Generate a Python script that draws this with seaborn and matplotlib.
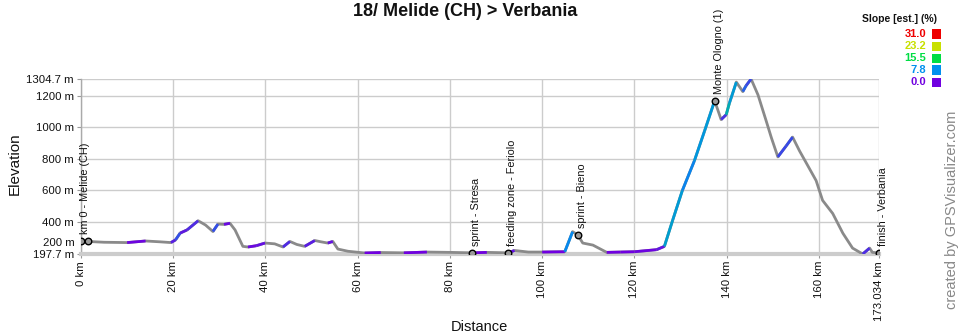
import numpy as np
import pandas as pd
import matplotlib
matplotlib.use("Agg")
import matplotlib.pyplot as plt
import matplotlib.transforms as mtransforms
from matplotlib.colors import LinearSegmentedColormap
from matplotlib.patches import Rectangle
import seaborn as sns

# ---- data ----
dist_km = [0, 1.5, 5, 10, 14, 17, 19.5, 20.5, 21.5, 23, 25.4, 27, 28.6, 29.7, 31, 32.3, 33.4,
           35.1, 36.2, 38, 39.9, 42, 43.8, 45.3, 46.8, 48.5, 50.7, 52, 53.5, 54.6, 55.7, 57.9,
           61.5, 65, 70, 75, 80, 84.8, 88, 92.6, 94, 97, 100, 104.9, 106.6, 107.7, 108.8, 111,
           114, 117, 120, 124.8, 126.5, 128.3, 130.4, 133, 135.2, 137.4, 138.8, 139.9, 140.6,
           142.1, 143.5, 144.2, 145.3, 146.8, 148.6, 149.7, 151.1, 152.9, 154.3, 155.8, 157.2,
           159.4, 160.8, 163, 165.2, 167.3, 169.5, 171, 171.6, 173.034]
elev_m = [278, 277, 272, 270, 280, 275, 270, 287, 330, 350, 408, 381, 340, 387, 385, 392, 350,
          246, 242, 250, 267, 262, 242, 277, 258, 246, 283, 275, 267, 277, 229, 215,
          204, 207, 205, 210, 208, 205, 208, 205, 220, 210, 210, 212, 339, 319, 267, 254,
          208, 210, 212, 225, 246, 412, 600, 787, 975, 1167, 1048, 1079, 1152,
          1285, 1225, 1262, 1304.7, 1204, 1037, 933, 812, 881, 937, 850, 777,
          662, 537, 454, 329, 235, 197.7, 235, 208, 205]

wp_km = [0, 1.5, 84.8, 92.6, 107.7, 137.4, 173.034]
wp_elev = [278, 277, 205, 205, 319, 1167, 205]
wp_labels = ["km 0 - Melide (CH)", "", "sprint - Stresa", "feeding zone - Feriolo",
             "sprint - Bieno", "Monte Ologno (1)", "finish - Verbania"]

xtick_vals = [0, 20, 40, 60, 80, 100, 120, 140, 160, 173.034]
xtick_labels = ["0 km", "20 km", "40 km", "60 km", "80 km", "100 km", "120 km", "140 km",
                "160 km", "173.034 km"]
ytick_vals = [197.7, 400, 600, 800, 1000, 1200, 1304.7]
ytick_labels = ["197.7 m", "400 m", "600 m", "800 m", "1000 m", "1200 m", "1304.7 m"]

legend_vals = ["31.0", "23.2", "15.5", "7.8", "0.0"]
legend_cols = ["#ee0000", "#c8e000", "#00dd44", "#0090ee", "#7000e0"]

# ---- style ----
sns.set_theme(style="white")
plt.rcParams["font.family"] = ["Liberation Sans", "DejaVu Sans"]

fig = plt.figure(figsize=(9.6, 3.35), dpi=100)
ax = fig.add_axes([81 / 960, 81 / 335, 798 / 960, 175 / 335])

df = pd.DataFrame({"km": dist_km, "elev": elev_m})
sns.lineplot(data=df, x="km", y="elev", color="#8a8a8a", lw=2, ax=ax, zorder=3)

# slope colouring on climbing segments
cmap = LinearSegmentedColormap.from_list(
    "slope", [(0.0, legend_cols[4]), (7.8 / 31, legend_cols[3]), (15.5 / 31, legend_cols[2]),
              (23.2 / 31, legend_cols[1]), (1.0, legend_cols[0])])
for i in range(len(dist_km) - 1):
    dx = (dist_km[i + 1] - dist_km[i]) * 1000
    dy = elev_m[i + 1] - elev_m[i]
    if dy > 0:
        s = min(dy / dx * 100, 31) / 31
        ax.plot(dist_km[i:i + 2], elev_m[i:i + 2], color=cmap(s), lw=2,
                solid_capstyle="butt", zorder=4)

# waypoints
wdf = pd.DataFrame({"km": wp_km, "elev": wp_elev})
sns.scatterplot(data=wdf, x="km", y="elev", marker="o", s=22, color="#9a9a9a",
                edgecolor="black", linewidth=1.0, ax=ax, zorder=6)
for k, e, lab in zip(wp_km, wp_elev, wp_labels):
    if lab:
        off = mtransforms.offset_copy(ax.transData, fig=fig, x=0.04, y=0.07, units="inches")
        ax.text(k, e, lab, rotation=90, ha="center", va="bottom", fontsize=7.8,
                color="#111111", transform=off, zorder=7)

ax.set_xlim(0, 173.034)
ax.set_ylim(197.7, 1304.7)
ax.set_xticks(xtick_vals)
ax.set_xticklabels(xtick_labels, rotation=90, fontsize=8.2, color="#111111")
ax.set_yticks(ytick_vals)
ax.set_yticklabels(ytick_labels, fontsize=8.2, color="#111111")
# shifted 200 m label as in reference
off200 = mtransforms.offset_copy(ax.get_yaxis_transform(), fig=fig, x=-0.06, y=0.11, units="inches")
ax.text(0, 200, "200 m", ha="right", va="center", fontsize=8.2, color="#111111",
        transform=off200)
ax.tick_params(axis="both", length=3, width=0.8, color="#999999", pad=2, direction="out",
               left=True, bottom=True)

ax.grid(True, color="#cccccc", lw=1)
ax.set_axisbelow(True)
for s in ["top", "right"]:
    ax.spines[s].set_visible(False)
ax.spines["left"].set_color("#aaaaaa")
ax.spines["left"].set_linewidth(1)
ax.spines["bottom"].set_color("#cccccc")
ax.spines["bottom"].set_linewidth(3)

ax.set_xlabel("")
ax.set_ylabel("")
fig.text(15 / 960, 1 - 164 / 335, "Elevation", rotation=90, ha="center", va="center",
         fontsize=11, color="#111111")
fig.text(479 / 960, 1 - 327 / 335, "Distance", ha="center", va="center", fontsize=10.5,
         color="#111111")
fig.text(465 / 960, 1 - 12 / 335, "18/ Melide (CH) > Verbania", ha="center", va="center",
         fontsize=13, fontweight="bold", color="#111111")

# legend
fig.text(937 / 960, 1 - 19 / 335, "Slope [est.] (%)", ha="right", va="center", fontsize=7.5,
         fontweight="bold", color="#111111")
for j, (v, c) in enumerate(zip(legend_vals, legend_cols)):
    yc = 34 + j * 12
    fig.text(926 / 960, 1 - yc / 335, v, ha="right", va="center", fontsize=8,
             fontweight="bold", color=c)
    fig.patches.append(Rectangle((932 / 960, 1 - (yc + 4.5) / 335), 9 / 960, 9 / 335,
                                 transform=fig.transFigure, facecolor=c, edgecolor="none"))

fig.text(952 / 960, 1 - 210 / 335, "created by GPSVisualizer.com", rotation=90, ha="center",
         va="center", fontsize=10.5, color="#888888")

fig.savefig("out.png", dpi=100)
